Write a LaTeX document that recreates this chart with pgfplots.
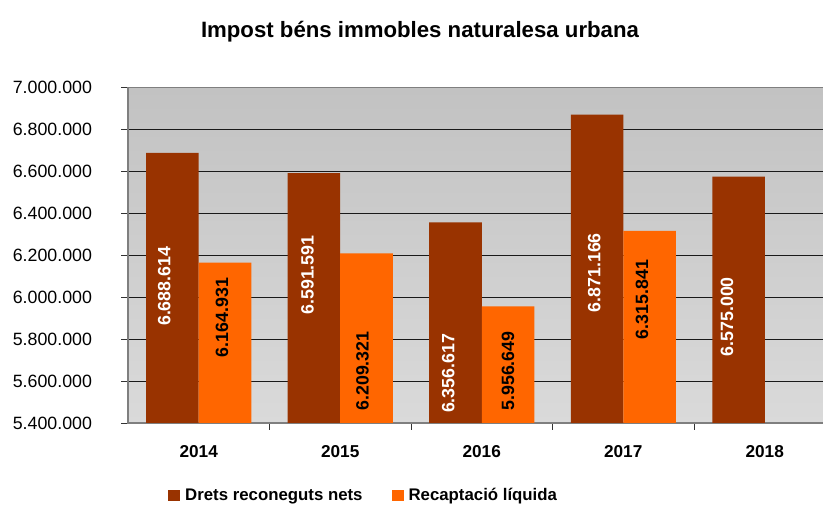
\documentclass[border=0pt]{standalone}
\usepackage{pgfplots}
\usepackage{pgfplotstable}
\pgfplotsset{compat=1.18}
\usepackage{fontspec}
\setmainfont{Liberation Sans}
\definecolor{darkbrown}{HTML}{993300}
\definecolor{orng}{HTML}{FF6600}
\definecolor{bgtop}{HTML}{C2C2C2}
\definecolor{bgbot}{HTML}{DADADA}
\definecolor{axgray}{HTML}{7F7F7F}
\newcommand\fs[1]{\fontsize{#1}{#1}\selectfont}
\pgfplotsset{
  sqlegend/.style={legend image code/.code={\fill[##1] (0pt,-0.6pt) rectangle (11.7pt,11.1pt); \path (0pt,0pt) (16.7pt,0pt);}},
}

% x = category, y = value, dy/dx = label offset from bar top (pt)
\pgfplotstableread{
x y dy dx
0 6688614 -133.5 -8.3
1 6591591 -101.9 -6.5
2 6356617 -150.9 -7.2
3 6871166 -158.2 -2.8
4 6575000 -140.1 -11.5
}\drets
\pgfplotstableread{
x y dy dx
0 6164931 -54.9 -3
1 6209321 -117.7 -4
2 5956649 -64.7 0
3 6315841 -68.7 -7.5
}\recap

\begin{document}
\begin{tikzpicture}
\useasboundingbox (0,0) rectangle (823pt,505pt);
\node[anchor=base, font=\bfseries\fs{22.2}, inner sep=0pt] at (420pt,467.7pt) {Impost béns immobles naturalesa urbana};
\begin{axis}[
  at={(128pt,82pt)}, anchor=south west,
  scale only axis, width=707.5pt, height=335.5pt,
  xmin=-0.5, xmax=4.5, ymin=5400000, ymax=7000000,
  ybar=0pt, bar width=52.5pt,
  axis background/.style={shade, top color=bgtop, bottom color=bgbot},
  axis line style={draw=axgray, line width=1.3pt},
  ymajorgrids, grid style={black!90, line width=0.9pt},
  ytick distance=200000, scaled y ticks=false,
  yticklabel style={font=\fs{17.8}, anchor=east, inner xsep=0pt, xshift=-29.3pt},
  /pgf/number format/.cd, fixed, precision=0, 1000 sep={.}, assume math mode=true, /pgfplots/.cd,
  xtick={0,1,2,3,4}, xticklabels={2014,2015,2016,2017,2018},
  minor xtick={0.5,1.5,2.5,3.5},
  xticklabel style={font=\bfseries\fs{17.2}, anchor=base, inner sep=0pt, yshift=-27.8pt},
  tick align=outside, major tick length=6.5pt, minor tick length=7pt,
  xtick pos=bottom, ytick pos=left,
  major x tick style={draw=none},
  minor x tick style={draw=black!80, line width=0.9pt},
  major y tick style={draw=black!80, line width=0.9pt},
  legend columns=2,
  legend style={at={(0.05696,-0.2365)}, anchor=south west, draw=none, fill=none,
    inner sep=0pt, font=\bfseries\fs{16.8}, cells={anchor=base}, nodes={inner sep=0pt},
    /tikz/every even column/.append style={column sep=29.3pt}},
]
\addplot[fill=darkbrown, draw=none, sqlegend,
  point meta=y,
  visualization depends on={\thisrow{dy} \as \dy},
  visualization depends on={\thisrow{dx} \as \dx},
  nodes near coords={\pgfmathprintnumber{\pgfplotspointmeta}},
  every node near coord/.append style={text=white, font=\bfseries\fs{17.8}, anchor=center,
    xshift=\dx pt, yshift=\dy pt, rotate=90}]
  table[x=x, y=y] {\drets};
\addlegendentry{Drets reconeguts nets}
\addplot[fill=orng, draw=none, sqlegend,
  point meta=y,
  visualization depends on={\thisrow{dy} \as \dy},
  visualization depends on={\thisrow{dx} \as \dx},
  nodes near coords={\pgfmathprintnumber{\pgfplotspointmeta}},
  every node near coord/.append style={text=black, font=\bfseries\fs{17.8}, anchor=center,
    xshift=\dx pt, yshift=\dy pt, rotate=90}]
  table[x=x, y=y] {\recap};
\addlegendentry{Recaptació líquida}
\end{axis}
\end{tikzpicture}
\end{document}
